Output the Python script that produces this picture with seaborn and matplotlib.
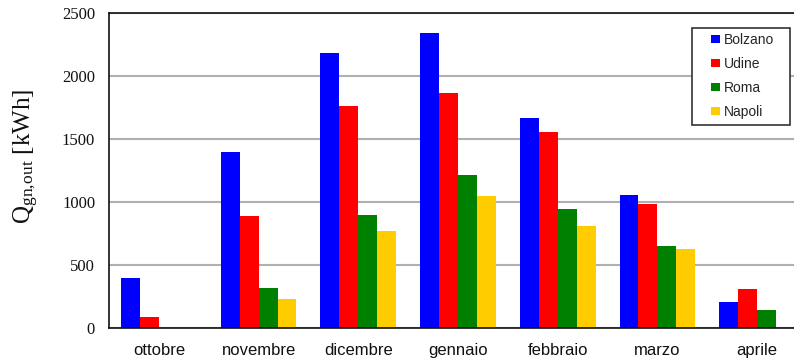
import numpy as np
import pandas as pd
import matplotlib
matplotlib.use("Agg")
import matplotlib.pyplot as plt
from matplotlib.patches import Rectangle
import seaborn as sns

# Monthly generator output per city
mesi = ["ottobre", "novembre", "dicembre", "gennaio", "febbraio", "marzo", "aprile"]
citta = ["Bolzano", "Udine", "Roma", "Napoli"]
bolzano = [400, 1400, 2180, 2345, 1670, 1055, 205]
udine = [85, 890, 1765, 1868, 1557, 985, 310]
roma = [0, 317, 898, 1215, 945, 651, 143]
napoli = [0, 230, 770, 1048, 810, 627, 0]
colori = ["#0000FF", "#FF0000", "#008000", "#FFCC00"]
yticks = [0, 500, 1000, 1500, 2000, 2500]

df = pd.DataFrame({
    "mese": [m for m in mesi for _ in citta],
    "citta": [c for _ in mesi for c in citta],
    "valore": [v for vals in zip(bolzano, udine, roma, napoli) for v in vals],
})

sns.set_theme(style="white")
plt.rcParams["mathtext.fontset"] = "custom"
plt.rcParams["mathtext.rm"] = "Liberation Serif"
plt.rcParams["mathtext.it"] = "Liberation Serif:italic"

fig = plt.figure(figsize=(7.94, 3.6), dpi=100)
ax = fig.add_axes([109 / 794, 32 / 360, 698 / 794, 315 / 360])

sns.barplot(data=df, x="mese", y="valore", hue="citta", order=mesi,
            hue_order=citta, palette=colori, width=0.76, gap=0,
            saturation=1, edgecolor="none", linewidth=0, ax=ax)

ax.set_ylim(0, 2500)
ax.set_xlim(-0.5, 6.5)
ax.set_yticks(yticks)
ax.set_yticklabels([str(t) for t in yticks], family="Liberation Serif", fontsize=12)
ax.set_xticks(range(len(mesi)))
ax.set_xticklabels(mesi, family="Liberation Sans", fontsize=12)
ax.set_xticks(np.arange(0.5, 6.5, 1), minor=True)
ax.tick_params(axis="x", which="major", length=0, pad=11, colors="#111111")
ax.tick_params(axis="x", which="minor", direction="in", length=4, width=1, color="#444444")
ax.tick_params(axis="y", direction="in", length=4, width=1.5, color="#444444", pad=10,
               labelcolor="#111111")

ax.yaxis.grid(True, color="#b0b0b0", linewidth=1.5)
ax.set_axisbelow(True)
for side in ["left", "bottom", "top"]:
    ax.spines[side].set_color("#111111")
    ax.spines[side].set_linewidth(1.2)
ax.spines["right"].set_visible(False)

ax.set_xlabel("")
ax.set_ylabel(r"Q$_{\mathrm{gn,\!out}}$ [kWh]", family="Liberation Serif", fontsize=18,
              color="#111111")
ax.yaxis.set_label_coords(-0.098, 0.545)

# Legend box
ax.add_patch(Rectangle((0.8352, 0.6444), 0.1404, 0.308, transform=ax.transAxes,
                       facecolor="white", edgecolor="#333333", linewidth=1.2,
                       zorder=4, clip_on=False))
handles, labels = ax.get_legend_handles_labels()
leg = ax.legend(handles, labels, loc="upper left", bbox_to_anchor=(0.8625, 0.937),
                borderaxespad=0, borderpad=0, frameon=False,
                prop={"family": "Liberation Sans", "size": 10},
                handlelength=0.65, handleheight=0.6, handletextpad=0.28,
                labelspacing=0.72)
leg.set_zorder(5)

fig.savefig("out.png", dpi=100)
